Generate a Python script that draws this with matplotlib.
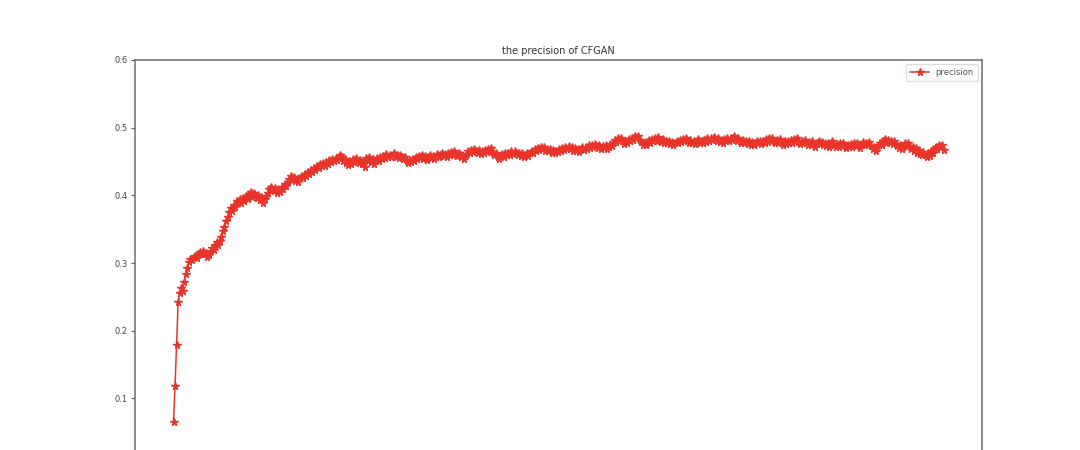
import matplotlib
matplotlib.use('Agg')
import matplotlib.pyplot as plt
import numpy as np


# precision per epoch
precision = [
    0.065, 0.118, 0.179, 0.242, 0.255, 0.263, 0.258, 0.272, 0.284, 0.293, 0.301, 0.306, 0.304, 0.309, 0.311, 0.307, 0.313, 0.316, 0.314, 0.317,
    0.313, 0.315, 0.309, 0.312, 0.318, 0.322, 0.319, 0.327, 0.331, 0.326, 0.333, 0.338, 0.347, 0.353, 0.362, 0.368, 0.376, 0.381, 0.377, 0.386,
    0.383, 0.391, 0.388, 0.394, 0.389, 0.396, 0.392, 0.399, 0.394, 0.402, 0.405, 0.398, 0.403, 0.400, 0.396, 0.401, 0.393, 0.397, 0.389, 0.394,
    0.399, 0.404, 0.409, 0.413, 0.410, 0.407, 0.411, 0.404, 0.409, 0.405, 0.412, 0.409, 0.417, 0.414, 0.420, 0.424, 0.428, 0.423, 0.427, 0.421,
    0.424, 0.419, 0.426, 0.429, 0.425, 0.431, 0.428, 0.434, 0.432, 0.438, 0.435, 0.441, 0.437, 0.443, 0.440, 0.446, 0.443, 0.448, 0.444, 0.449,
    0.446, 0.452, 0.449, 0.454, 0.450, 0.455, 0.452, 0.457, 0.460, 0.456, 0.451, 0.454, 0.448, 0.445, 0.450, 0.447, 0.453, 0.449, 0.455, 0.451,
    0.448, 0.452, 0.446, 0.449, 0.442, 0.455, 0.451, 0.456, 0.449, 0.453, 0.447, 0.452, 0.455, 0.451, 0.457, 0.453, 0.458, 0.455, 0.461, 0.457,
    0.460, 0.456, 0.459, 0.462, 0.457, 0.460, 0.455, 0.459, 0.456, 0.453, 0.457, 0.451, 0.448, 0.452, 0.449, 0.454, 0.451, 0.456, 0.453, 0.458,
    0.455, 0.459, 0.454, 0.458, 0.452, 0.457, 0.460, 0.455, 0.458, 0.453, 0.457, 0.461, 0.456, 0.459, 0.463, 0.458, 0.461, 0.457, 0.462, 0.459,
    0.464, 0.460, 0.465, 0.461, 0.458, 0.462, 0.456, 0.459, 0.454, 0.458, 0.461, 0.465, 0.462, 0.467, 0.464, 0.469, 0.466, 0.463, 0.467, 0.461,
    0.465, 0.462, 0.467, 0.464, 0.469, 0.466, 0.470, 0.463, 0.459, 0.462, 0.457, 0.454, 0.458, 0.461, 0.457, 0.462, 0.459, 0.463, 0.460, 0.465,
    0.461, 0.466, 0.462, 0.459, 0.463, 0.458, 0.462, 0.456, 0.460, 0.463, 0.458, 0.462, 0.466, 0.463, 0.468, 0.465, 0.470, 0.467, 0.472, 0.468,
    0.471, 0.466, 0.469, 0.465, 0.468, 0.463, 0.467, 0.462, 0.466, 0.464, 0.469, 0.466, 0.470, 0.467, 0.472, 0.469, 0.473, 0.468, 0.471, 0.466,
    0.470, 0.465, 0.469, 0.464, 0.468, 0.471, 0.467, 0.472, 0.469, 0.474, 0.470, 0.475, 0.472, 0.476, 0.473, 0.470, 0.474, 0.469, 0.473, 0.470,
    0.474, 0.469, 0.472, 0.476, 0.473, 0.478, 0.482, 0.479, 0.485, 0.481, 0.484, 0.480, 0.476, 0.481, 0.478, 0.483, 0.480, 0.485, 0.482, 0.488,
    0.484, 0.487, 0.482, 0.479, 0.475, 0.478, 0.474, 0.479, 0.482, 0.478, 0.483, 0.480, 0.485, 0.481, 0.486, 0.482, 0.479, 0.483, 0.478, 0.481,
    0.477, 0.481, 0.476, 0.479, 0.474, 0.478, 0.481, 0.477, 0.482, 0.479, 0.483, 0.480, 0.485, 0.481, 0.478, 0.482, 0.477, 0.481, 0.476, 0.480,
    0.483, 0.478, 0.481, 0.477, 0.482, 0.479, 0.484, 0.480, 0.485, 0.482, 0.486, 0.483, 0.480, 0.484, 0.479, 0.482, 0.478, 0.483, 0.480, 0.484,
    0.481, 0.485, 0.482, 0.487, 0.483, 0.480, 0.485, 0.481, 0.478, 0.482, 0.477, 0.481, 0.476, 0.480, 0.475, 0.479, 0.474, 0.478, 0.481, 0.477,
    0.480, 0.476, 0.481, 0.478, 0.483, 0.479, 0.484, 0.480, 0.485, 0.481, 0.477, 0.482, 0.478, 0.483, 0.479, 0.475, 0.480, 0.476, 0.481, 0.478,
    0.482, 0.478, 0.483, 0.479, 0.484, 0.480, 0.476, 0.481, 0.477, 0.482, 0.478, 0.474, 0.479, 0.475, 0.480, 0.476, 0.472, 0.477, 0.481, 0.476,
    0.479, 0.475, 0.478, 0.473, 0.477, 0.472, 0.476, 0.480, 0.475, 0.471, 0.476, 0.472, 0.477, 0.473, 0.478, 0.474, 0.470, 0.475, 0.471, 0.476,
    0.472, 0.477, 0.473, 0.478, 0.474, 0.470, 0.475, 0.479, 0.474, 0.478, 0.475, 0.479, 0.473, 0.469, 0.472, 0.466, 0.470, 0.474, 0.478, 0.475,
    0.480, 0.483, 0.478, 0.482, 0.477, 0.481, 0.476, 0.480, 0.476, 0.473, 0.470, 0.474, 0.468, 0.472, 0.477, 0.473, 0.478, 0.471, 0.468, 0.472,
    0.466, 0.470, 0.463, 0.467, 0.461, 0.459, 0.464, 0.460, 0.456, 0.462, 0.458, 0.466, 0.463, 0.469, 0.472, 0.468, 0.475, 0.471, 0.474, 0.467,
]
epochs = np.arange(len(precision))

yticks = [0.1, 0.2, 0.3, 0.4, 0.5, 0.6]


fig = plt.figure(figsize=(10.8, 4.5), dpi=100)
# the bottom of the plot (x axis) falls outside the picture, as in the reference
ax = fig.add_axes([0.125, -0.0356, 0.7843, 0.9023])

ax.plot(epochs, precision, color='#e8342a', marker='*', markersize=5.5,
        linewidth=1.1, label='precision')

ax.set_ylim(0, 0.6)
ax.set_yticks(yticks)
ax.set_yticklabels(['{:.1f}'.format(t) for t in yticks])
ax.set_xticks([])
ax.tick_params(axis='y', labelsize=6, colors='#555555', length=3, width=0.8, pad=2)
ax.tick_params(axis='y', labelcolor='#444444')
for s in ax.spines.values():
    s.set_color('#777777')
    s.set_linewidth(1.2)

ax.set_title('the precision of CFGAN', fontsize=7, color='#333333', pad=4)
leg = ax.legend(loc='upper right', fontsize=6, handlelength=2.2,
                borderpad=0.5, framealpha=1)
leg.get_frame().set_edgecolor('#dddddd')
for t in leg.get_texts():
    t.set_color('#555555')

plt.savefig('out.png', dpi=100)
